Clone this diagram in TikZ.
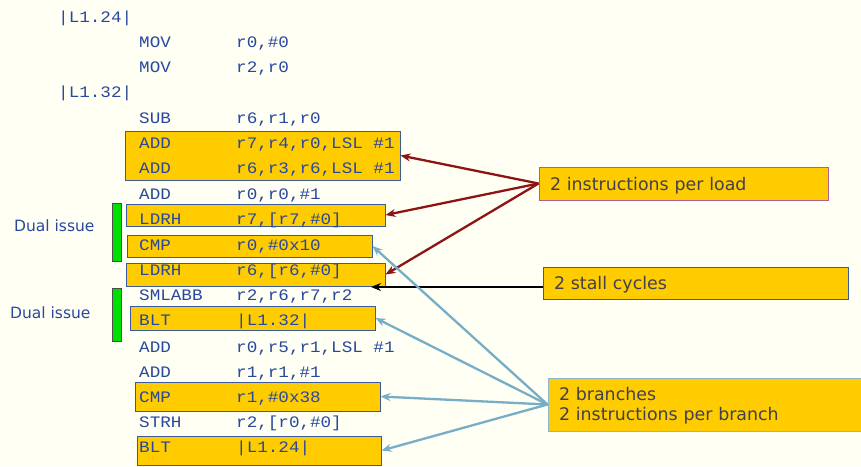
\documentclass[tikz,border=0pt]{standalone}
\usepackage{fontspec}
\setmainfont{DejaVu Sans}
\newfontfamily\codefont[FakeStretch=1.1]{Liberation Mono}
\usetikzlibrary{arrows.meta}
\definecolor{bgc}{RGB}{255,255,243}
\definecolor{gold}{RGB}{255,204,0}
\definecolor{codeblue}{RGB}{40,72,160}
\definecolor{boxblue}{RGB}{60,90,160}
\definecolor{mauve}{RGB}{176,96,140}
\definecolor{paleblue}{RGB}{140,182,200}
\definecolor{darkred}{RGB}{140,20,20}
\definecolor{arrblue}{RGB}{118,174,200}
\definecolor{notetext}{RGB}{64,64,80}
\definecolor{barGreen}{RGB}{0,224,0}
\tikzset{
  code/.style={anchor=base west, inner sep=0pt, text=codeblue, font=\codefont\fontsize{16}{16}\selectfont},
  hlbox/.style={draw=boxblue, line width=1pt, fill=gold, inner sep=0pt},
  notebox/.style={fill=gold, line width=1pt, inner xsep=11pt, inner ysep=0pt, align=left,
     text=notetext, font=\fontsize{17.4}{20}\selectfont},
  dual/.style={anchor=west, inner sep=0pt, text=codeblue, font=\fontsize{15.5}{16}\selectfont},
  gbar/.style={draw=black!70, fill=barGreen, line width=0.8pt, inner sep=0pt, minimum width=9pt},
  redarr/.style={draw=darkred, line width=2.3pt, -{Stealth[length=10pt,width=8pt]}},
  bluearr/.style={draw=arrblue, line width=2.3pt, -{Stealth[length=10pt,width=8pt]}},
  blackarr/.style={draw=black, line width=2.3pt, -{Stealth[length=10pt,width=8pt]}}
}
\newcommand{\codeln}[4]{%
  \node[code] (#1m) at (139,#2) {#3};
  \node[code] (#1o) at (236,#2) {#4};}
\begin{document}
\begin{tikzpicture}[x=1pt,y=-1pt]
\fill[bgc] (0,0) rectangle (861,466);
\useasboundingbox (0,0) rectangle (861,466);

% highlight boxes
\node[hlbox, minimum width=275pt, minimum height=49pt] (b1) at (262.5,155.5) {};
\node[hlbox, minimum width=259pt, minimum height=22pt] (b2) at (255.5,215) {};
\node[hlbox, minimum width=245pt, minimum height=22pt] (b3) at (249.5,246) {};
\node[hlbox, minimum width=259pt, minimum height=23pt] (b4) at (255.5,274.5) {};
\node[hlbox, minimum width=245pt, minimum height=24pt] (b5) at (252.5,318) {};
\node[hlbox, minimum width=245pt, minimum height=29pt] (b6) at (257.5,396.5) {};
\node[hlbox, minimum width=244pt, minimum height=29pt] (b7) at (259,450.5) {};

% green bars
\node[gbar, minimum height=58pt] (g1) at (116.5,232) {};
\node[gbar, minimum height=53pt] (g2) at (116.5,314.5) {};

% labels
\node[code] (lab1) at (58,22) {|L1.24|};
\codeln{l1}{47}{MOV}{r0,\#0}
\codeln{l2}{72.5}{MOV}{r2,r0}
\node[code] (lab2) at (58,97.5) {|L1.32|};
\codeln{l3}{123}{SUB}{r6,r1,r0}
\codeln{l4}{148}{ADD}{r7,r4,r0,LSL \#1}
\codeln{l5}{173}{ADD}{r6,r3,r6,LSL \#1}
\codeln{l6}{199.5}{ADD}{r0,r0,\#1}
\codeln{l7}{224.5}{LDRH}{r7,[r7,\#0]}
\codeln{l8}{250}{CMP}{r0,\#0x10}
\codeln{l9}{275}{LDRH}{r6,[r6,\#0]}
\codeln{l10}{300}{SMLABB}{r2,r6,r7,r2}
\codeln{l11}{325}{BLT}{|L1.32|}
\codeln{l12}{352}{ADD}{r0,r5,r1,LSL \#1}
\codeln{l13}{377}{ADD}{r1,r1,\#1}
\codeln{l14}{402}{CMP}{r1,\#0x38}
\codeln{l15}{427}{STRH}{r2,[r0,\#0]}
\codeln{l16}{452}{BLT}{|L1.24|}

\node[dual] (d1) at (14,226) {Dual issue};
\node[dual] (d2) at (10,313) {Dual issue};

% notes
\node[notebox, draw=mauve, text width=267pt, minimum height=33pt, text height=16pt, text depth=3pt] (n1) at (683.5,183.5) {2 instructions per load};
\node[notebox, draw=boxblue, text width=283pt, minimum height=32pt, text height=16pt, text depth=3pt] (n2) at (695.5,283) {2 stall cycles};
\node[notebox, draw=paleblue, text width=296pt, minimum height=53pt] (n3) at (707,404.5) {\rule{0pt}{16pt}2 branches\\2 instructions per branch};

\coordinate (stall) at (371,287);

% arrows
\draw[redarr] (n1.west) -- (b1.east);
\draw[redarr] (n1.west) -- (b2.east);
\draw[redarr] (n1.west) -- (b4.east);
\draw[blackarr] ([yshift=-4pt]n2.west) -- (stall);
\draw[bluearr] (n3.west) -- (b3.east);
\draw[bluearr] (n3.west) -- (b5.east);
\draw[bluearr] (n3.west) -- (b6.east);
\draw[bluearr] (n3.west) -- (b7.east);
\end{tikzpicture}
\end{document}
